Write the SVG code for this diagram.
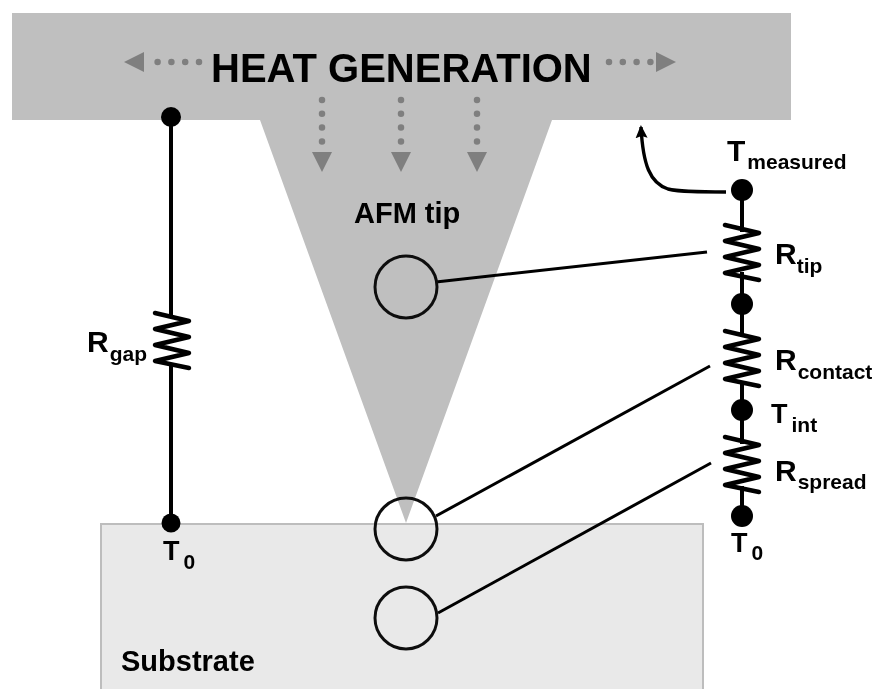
<svg xmlns="http://www.w3.org/2000/svg" width="874" height="689" viewBox="0 0 874 689">
<defs>
<filter id="soft" x="-5%" y="-5%" width="110%" height="110%"><feGaussianBlur stdDeviation="0.6"/></filter>
<marker id="up" viewBox="0 0 14 14" markerUnits="userSpaceOnUse" markerWidth="14" markerHeight="14" refX="11" refY="7" orient="auto"><path d="M0 1L13 7L0 13L2 7Z" fill="#000"/></marker>
<path id="zig" d="M-17 0L17 8L-17 16L17 24L-17 32L17 40L-17 48L17 55" fill="none" stroke="#000" stroke-width="4.5" stroke-linecap="round" stroke-linejoin="round"/>
<g id="hd"><path d="M0 0L-20 -10L-20 10Z" fill="#7f7f7f"/></g>
</defs>
<style>
text{font-family:"Liberation Sans",Arial,sans-serif;font-weight:700;fill:#000}
.main{font-size:40px}
.lab{font-size:29px}
.sym{font-size:30px}
.tee{font-size:27px}
.sub{font-size:21px}
.wire{stroke:#000;stroke-width:4;fill:none}
.lead{stroke:#000;stroke-width:3;fill:none}
.ring{stroke:#111;stroke-width:3;fill:none}
.dot{fill:#000}
.dots{stroke:#7f7f7f;stroke-width:6.5;stroke-linecap:round;stroke-dasharray:0 13.8;fill:none}
</style>
<g filter="url(#soft)">
<g id="substrate"><rect x="101" y="524" width="602" height="170" fill="#e9e9e9" stroke="#bdbdbd" stroke-width="2"/><text class="lab" x="121" y="671">Substrate</text></g>
<g id="cantilever"><path d="M12 13H791V120H552L406 523L260 120H12Z" fill="#bfbfbf"/><text class="main" x="211" y="82">HEAT GENERATION</text></g>
<g id="afm-label"><text class="lab" x="354" y="223">AFM tip</text></g>
<g id="heat-arrows">
<path class="dots" d="M199 62H150"/><use href="#hd" transform="translate(124 62) rotate(180)"/>
<path class="dots" d="M609 62H655"/><use href="#hd" transform="translate(676 62)"/>
<path class="dots" d="M322 100V145"/><use href="#hd" transform="translate(322 172) rotate(90)"/>
<path class="dots" d="M401 100V145"/><use href="#hd" transform="translate(401 172) rotate(90)"/>
<path class="dots" d="M477 100V145"/><use href="#hd" transform="translate(477 172) rotate(90)"/>
</g>
<g id="connectors">
<path class="wire" d="M171 117V316M171 364V523"/>
<path class="wire" d="M742 190V232M742 272V337M742 381V444M742 486V516"/>
<path class="lead" d="M436 282L707 252"/>
<path class="lead" d="M436 516L710 366"/>
<path class="lead" d="M438 613L711 463"/>
<path class="wire" d="M726 192C700 192 680 192 668 189C650 183 643 165 641 127" marker-end="url(#up)" style="stroke-width:3.4"/>
</g>
<g id="circle-tip"><circle class="ring" cx="406" cy="287" r="31"/></g>
<g id="circle-contact"><circle class="ring" cx="406" cy="529" r="31"/></g>
<g id="circle-spread"><circle class="ring" cx="406" cy="618" r="31"/></g>
<g id="r-gap"><use href="#zig" transform="translate(172 313)"/><text class="sym" x="87" y="352">R<tspan class="sub" dy="9" dx="1">gap</tspan></text></g>
<g id="t0-left"><circle class="dot" cx="171" cy="117" r="10"/><circle class="dot" cx="171" cy="523" r="9.5"/><text class="tee" x="163" y="560">T<tspan class="sub" dy="9" dx="4">0</tspan></text></g>
<g id="t-measured"><circle class="dot" cx="742" cy="190" r="11"/><text class="sym" x="727" y="161">T<tspan class="sub" dy="8" dx="2">measured</tspan></text></g>
<g id="r-tip"><use href="#zig" transform="translate(742 225)"/><text class="sym" x="775" y="264">R<tspan class="sub" dy="9">tip</tspan></text></g>
<g id="node-mid"><circle class="dot" cx="742" cy="304" r="11"/></g>
<g id="r-contact"><use href="#zig" transform="translate(742 331)"/><text class="sym" x="775" y="370">R<tspan class="sub" dy="9" dx="1">contact</tspan></text></g>
<g id="t-int"><circle class="dot" cx="742" cy="410" r="11"/><text class="tee" x="771" y="423">T<tspan class="sub" dy="9" dx="4">int</tspan></text></g>
<g id="r-spread"><use href="#zig" transform="translate(742 437)"/><text class="sym" x="775" y="481">R<tspan class="sub" dy="8" dx="1">spread</tspan></text></g>
<g id="t0-right"><circle class="dot" cx="742" cy="516" r="11"/><text class="tee" x="731" y="552">T<tspan class="sub" dy="8" dx="4">0</tspan></text></g>
</g>
</svg>
